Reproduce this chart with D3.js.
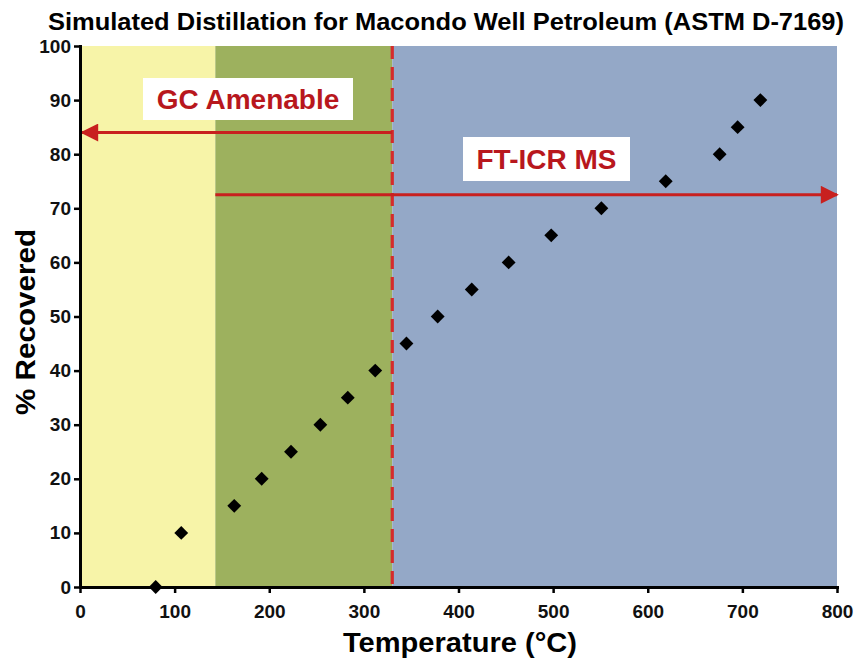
<!DOCTYPE html>
<html>
<head>
<meta charset="utf-8">
<script src="https://cdn.jsdelivr.net/npm/d3@7"></script>
<style>
  html, body { margin: 0; padding: 0; background: #ffffff; }
  svg { display: block; font-family: "Liberation Sans", Arial, sans-serif; }
</style>
</head>
<body>
<svg id="chart" width="858" height="660"></svg>
<script>
// Simulated distillation curve: boiling temperature (°C) vs. % recovered
const temperature = [80, 107, 163, 192, 223, 254, 283, 312, 345, 378, 414, 453, 498, 551, 619, 676, 695, 719];
const recovered   = [0, 10, 15, 20, 25, 30, 35, 40, 45, 50, 55, 60, 65, 70, 75, 80, 85, 90];

// Shaded temperature bands
const bandStart  = [0, 143, 330];
const bandEnd    = [143, 330, 800];
const bandColors = ["#f7f4a8", "#9db15e", "#94a8c7"];

// Analytical windows
const gcCutoff = 330;
const gcArrowY = 84, ftArrowY = 72.5, ftArrowStart = 143;

const xTicks = [0, 100, 200, 300, 400, 500, 600, 700, 800];
const yTicks = [0, 10, 20, 30, 40, 50, 60, 70, 80, 90, 100];

const svg = d3.select("#chart");
const x = d3.scaleLinear().domain([0, 800]).range([80, 837]);
const y = d3.scaleLinear().domain([0, 100]).range([587, 46]);

const red = "#c8201f";

// arrowhead
svg.append("defs").append("marker")
  .attr("id", "head")
  .attr("viewBox", "0 0 10 10")
  .attr("refX", 9).attr("refY", 5)
  .attr("markerWidth", 8).attr("markerHeight", 6)
  .attr("markerUnits", "strokeWidth")
  .attr("orient", "auto")
  .append("path").attr("d", "M0,0 L10,5 L0,10 Z").attr("fill", red);

// background bands
svg.append("g").selectAll("rect").data(bandStart).join("rect")
  .attr("x", (d) => x(d))
  .attr("width", (d, i) => x(bandEnd[i]) - x(d))
  .attr("y", y(100))
  .attr("height", y(0) - y(100))
  .attr("fill", (d, i) => bandColors[i]);

// GC cutoff
svg.append("line")
  .attr("x1", x(gcCutoff)).attr("x2", x(gcCutoff))
  .attr("y1", y(100)).attr("y2", y(0))
  .attr("stroke", "#d52b2b").attr("stroke-width", 3.2)
  .attr("stroke-dasharray", "13,8");

// range arrows
svg.append("line")
  .attr("x1", x(gcCutoff)).attr("x2", x(0) + 2)
  .attr("y1", y(gcArrowY)).attr("y2", y(gcArrowY))
  .attr("stroke", red).attr("stroke-width", 3)
  .attr("marker-end", "url(#head)");
svg.append("line")
  .attr("x1", x(ftArrowStart)).attr("x2", x(800))
  .attr("y1", y(ftArrowY)).attr("y2", y(ftArrowY))
  .attr("stroke", red).attr("stroke-width", 3)
  .attr("marker-end", "url(#head)");

// labels in white boxes
const boxes = [
  { text: "GC Amenable", x0: 143, x1: 353, y0: 78, y1: 120 },
  { text: "FT-ICR MS",   x0: 463, x1: 630, y0: 137, y1: 181 }
];
const lab = svg.append("g").selectAll("g").data(boxes).join("g");
lab.append("rect")
  .attr("x", (d) => d.x0).attr("y", (d) => d.y0)
  .attr("width", (d) => d.x1 - d.x0).attr("height", (d) => d.y1 - d.y0)
  .attr("fill", "#ffffff");
lab.append("text")
  .attr("x", (d) => (d.x0 + d.x1) / 2)
  .attr("y", (d) => (d.y0 + d.y1) / 2 + 10)
  .attr("text-anchor", "middle")
  .attr("font-size", 28).attr("font-weight", "bold")
  .attr("fill", "#b8171d")
  .text((d) => d.text);

// data points
svg.append("g").selectAll("path").data(temperature).join("path")
  .attr("d", d3.symbol(d3.symbolSquare, 96))
  .attr("transform", (d, i) => `translate(${x(d)},${y(recovered[i])}) rotate(45)`)
  .attr("fill", "#000000");

// axes
const xAxis = svg.append("g")
  .attr("transform", `translate(0,${y(0)})`)
  .call(d3.axisBottom(x).tickValues(xTicks).tickSize(6).tickPadding(12).tickSizeOuter(0));
const yAxis = svg.append("g")
  .attr("transform", `translate(${x(0)},0)`)
  .call(d3.axisLeft(y).tickValues(yTicks).tickSize(6).tickPadding(3).tickSizeOuter(0));
[xAxis, yAxis].forEach((g) => {
  g.select(".domain").attr("stroke", "#000").attr("stroke-width", 3).attr("stroke-linecap", "square");
  g.selectAll(".tick line").attr("stroke", "#000").attr("stroke-width", 2.5);
  g.selectAll(".tick text")
    .attr("font-size", 19).attr("font-weight", "bold")
    .attr("font-family", "Liberation Sans, Arial, sans-serif")
    .attr("fill", "#111111");
});

// title and axis titles
svg.append("text")
  .attr("x", 446).attr("y", 30)
  .attr("text-anchor", "middle")
  .attr("font-size", 23).attr("font-weight", "bold")
  .attr("textLength", 796).attr("lengthAdjust", "spacingAndGlyphs")
  .text("Simulated Distillation for Macondo Well Petroleum (ASTM D-7169)");

svg.append("text")
  .attr("x", 460).attr("y", 652)
  .attr("text-anchor", "middle")
  .attr("font-size", 27).attr("font-weight", "bold")
  .attr("textLength", 234).attr("lengthAdjust", "spacingAndGlyphs")
  .text("Temperature (°C)");

svg.append("text")
  .attr("transform", "translate(35,322) rotate(-90)")
  .attr("text-anchor", "middle")
  .attr("font-size", 27).attr("font-weight", "bold")
  .attr("textLength", 186).attr("lengthAdjust", "spacingAndGlyphs")
  .text("% Recovered");
</script>
</body>
</html>
